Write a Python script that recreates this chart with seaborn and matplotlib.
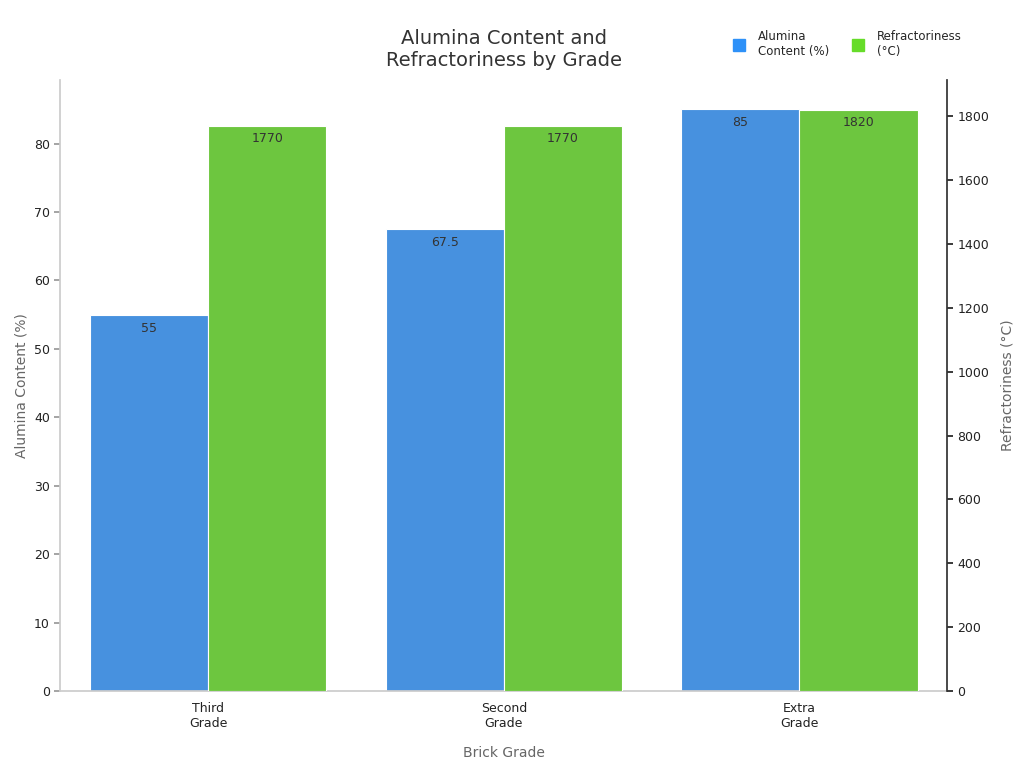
import matplotlib
matplotlib.use("Agg")
import matplotlib.pyplot as plt
import seaborn as sns
import pandas as pd
import numpy as np

grades = ["Third\nGrade", "Second\nGrade", "Extra\nGrade"]
alumina = [55, 67.5, 85]
refract = [1770, 1770, 1820]
alumina_labels = ["55", "67.5", "85"]
refract_labels = ["1770", "1770", "1820"]
series = ["Alumina\nContent (%)", "Refractoriness\n(°C)"]
colors = ["#2e91f8", "#66dc29"]

sns.set_theme(style="white")
plt.rcParams['font.family'] = ['DejaVu Sans']

n = len(grades)
df_a = pd.DataFrame({"grade": grades * 2, "series": [series[0]] * n + [series[1]] * n,
                     "value": alumina + [np.nan] * n})
df_r = pd.DataFrame({"grade": grades * 2, "series": [series[0]] * n + [series[1]] * n,
                     "value": [np.nan] * n + refract})

fig, ax1 = plt.subplots(figsize=(10.24, 7.68), dpi=100)
ax2 = ax1.twinx()
pal = dict(zip(series, colors))
sns.barplot(data=df_a, x="grade", y="value", hue="series", palette=pal, ax=ax1,
            width=0.8, edgecolor="white", linewidth=0.8, legend=False)
sns.barplot(data=df_r, x="grade", y="value", hue="series", palette=pal, ax=ax2,
            width=0.8, edgecolor="white", linewidth=0.8, legend=False)

ax1.set_xlim(-0.5, 2.5)
ax1.set_ylim(0, 89.3)
ax2.set_ylim(0, 1913)
ax1.set_yticks(range(0, 90, 10))
ax2.set_yticks(range(0, 1801, 200))

for i in range(n):
    ax1.text(i - 0.2, alumina[i] - 1.0, alumina_labels[i], ha="center", va="top", fontsize=9, color="#333333")
    ax2.text(i + 0.2, refract[i] - 21, refract_labels[i], ha="center", va="top", fontsize=9, color="#333333")

ax1.set_xlabel("Brick Grade", fontsize=10, color="#666666", labelpad=12)
ax1.set_ylabel("Alumina Content (%)", fontsize=10, color="#666666")
ax2.set_ylabel("Refractoriness (°C)", fontsize=10, color="#666666", labelpad=8)
for ax in (ax1, ax2):
    ax.tick_params(labelsize=9, colors="#222222", length=4)
    ax.spines["top"].set_visible(False)
ax1.tick_params(axis="both", color="#999999")
ax1.spines["left"].set_color("#cccccc")
ax1.spines["bottom"].set_color("#cccccc")
ax1.spines["right"].set_visible(False)
ax2.spines["left"].set_visible(False)
ax2.spines["bottom"].set_visible(False)
ax2.spines["right"].set_color("#333333")

ax1.set_title("Alumina Content and\nRefractoriness by Grade", fontsize=14, color="#333333", pad=10)
handles = [plt.Line2D([], [], marker="s", linestyle="", color=c, markersize=8) for c in colors]
fig.legend(handles, series, loc="upper right", bbox_to_anchor=(0.95, 0.975), ncol=2,
           frameon=False, fontsize=8.5, handletextpad=0.6, columnspacing=1.5)

fig.subplots_adjust(left=0.059, right=0.925, top=0.896, bottom=0.1)
fig.savefig("out.png", dpi=100)
